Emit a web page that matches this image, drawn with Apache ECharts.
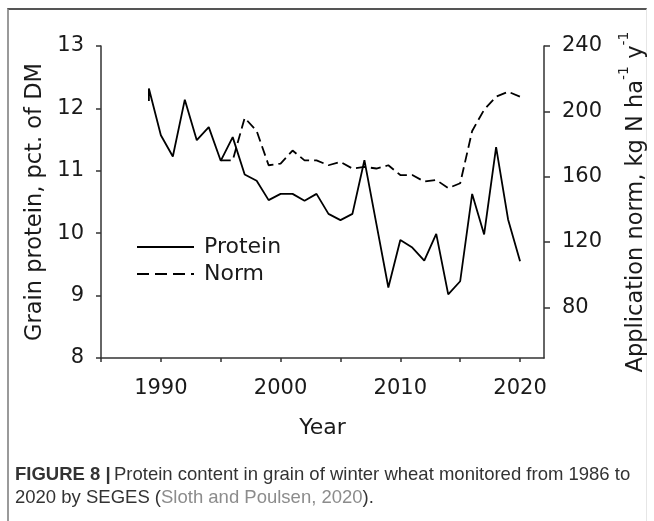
<!DOCTYPE html>
<html>
<head>
<meta charset="utf-8">
<script src="https://cdn.jsdelivr.net/npm/echarts@6/dist/echarts.min.js"></script>
<style>
  * { margin: 0; padding: 0; }
  body { background: #fff; }
  #frame {
    position: absolute; left: 7px; top: 8px; width: 637px; height: 540px;
    border-top: 2px solid #555; border-left: 2px solid #9a9a9a; border-right: 1px solid #e6e6e6;
  }
  #main { position: absolute; left: 0; top: 0; width: 654px; height: 521px; }
</style>
</head>
<body>
<div id="frame"></div>
<div id="main"></div>
<script>
// protein (pct. of DM), first year has two readings
var proteinYears = [1989, 1989, 1990, 1991, 1992, 1993, 1994, 1995, 1996, 1997, 1998, 1999,
  2000, 2001, 2002, 2003, 2004, 2005, 2006, 2007, 2008, 2009, 2010, 2011, 2012, 2013,
  2014, 2015, 2016, 2017, 2018, 2019, 2020];
var proteinValues = [12.12, 12.32, 11.57, 11.23, 12.14, 11.49, 11.70, 11.16, 11.54, 10.94, 10.84, 10.53,
  10.63, 10.63, 10.52, 10.63, 10.31, 10.21, 10.31, 11.17, 10.15, 9.13, 9.89, 9.77, 9.56, 9.99,
  9.02, 9.23, 10.63, 9.98, 11.38, 10.22, 9.55];

// application norm, kg N per ha per year
var normYears = [1995, 1996, 1997, 1998, 1999, 2000, 2001, 2002, 2003, 2004, 2005, 2006, 2007,
  2008, 2009, 2010, 2011, 2012, 2013, 2014, 2015, 2016, 2017, 2018, 2019, 2020];
var normValues = [170, 170, 196, 188, 167, 168, 176, 170, 170, 167, 169, 165, 166,
  165, 167, 161, 161, 157, 158, 153, 156, 188, 201, 209, 212, 209];

var yearTicks = [1985, 1990, 1995, 2000, 2005, 2010, 2015, 2020];
var yearLabels = [1990, 2000, 2010, 2020];
var normTicks = [80, 120, 160, 200, 240];

var font = 'DejaVu Sans';
var ink = '#1a1a1a';
var capFont = 'Liberation Sans';

function pairs(xs, ys) {
  var out = [];
  for (var i = 0; i < xs.length; i++) out.push([xs[i], ys[i]]);
  return out;
}

var chart = echarts.init(document.getElementById('main'));
chart.setOption({
  backgroundColor: 'transparent',
  animation: false,
  textStyle: { fontFamily: font, color: ink },
  grid: { left: 101, right: 110, top: 46, bottom: 163, containLabel: false, outerBoundsMode: 'none' },
  legend: {
    orient: 'vertical',
    left: 131, top: 231,
    itemWidth: 57, itemHeight: 14, itemGap: 5,
    itemStyle: { color: 'transparent', borderWidth: 0 },
    textStyle: { fontFamily: font, fontSize: 22, color: ink, padding: [0, 0, 0, 5] },
    data: [
      { name: 'Protein' },
      { name: 'Norm', lineStyle: { type: [12, 6] } }
    ]
  },
  xAxis: {
    type: 'value', min: 1985, max: 2022,
    name: 'Year', nameLocation: 'middle', nameGap: 59,
    nameTextStyle: { fontSize: 22, color: ink, fontFamily: font },
    axisLine: { lineStyle: { color: '#333', width: 1.5 } },
    axisTick: { show: true, length: 4, customValues: yearTicks, lineStyle: { color: '#333', width: 1.5 } },
    axisLabel: {
      customValues: yearLabels, margin: 20, fontSize: 21, color: ink, fontFamily: font,
      formatter: function (v) { return String(v); }
    },
    splitLine: { show: false }
  },
  yAxis: [{
    type: 'value', min: 8, max: 13, interval: 1,
    name: 'Grain protein, pct. of DM', nameLocation: 'middle', nameGap: 50,
    nameTextStyle: { fontSize: 22.5, color: ink, fontFamily: font },
    axisLine: { show: true, lineStyle: { color: '#333', width: 1.5 } },
    axisTick: { show: true, length: 5, lineStyle: { color: '#333', width: 1.5 } },
    axisLabel: { margin: 17, fontSize: 21, color: ink, fontFamily: font },
    splitLine: { show: false }
  }, {
    type: 'value', min: 49, max: 240, position: 'right',
    name: '{t|Application norm, kg N ha}{s|-1}{t| y}{s|-1}',
    nameLocation: 'middle', nameGap: 73, nameRotate: 90,
    nameTextStyle: {
      fontSize: 22.5, color: ink, fontFamily: font,
      rich: {
        t: { fontSize: 22.5, fontFamily: font, color: ink, lineHeight: 31, verticalAlign: 'bottom' },
        s: { fontSize: 14, fontFamily: font, color: ink, lineHeight: 31, verticalAlign: 'top' }
      }
    },
    axisLine: { show: true, lineStyle: { color: '#333', width: 1.5 } },
    axisTick: { show: true, length: 6, customValues: normTicks, lineStyle: { color: '#333', width: 1.5 } },
    axisLabel: { customValues: normTicks, margin: 18, fontSize: 21, color: ink, fontFamily: font },
    splitLine: { show: false }
  }],
  series: [{
    name: 'Protein', type: 'line', yAxisIndex: 0,
    symbol: 'none',
    lineStyle: { color: '#000', width: 1.8 },
    itemStyle: { color: '#000' },
    data: pairs(proteinYears, proteinValues)
  }, {
    name: 'Norm', type: 'line', yAxisIndex: 1,
    symbol: 'none',
    lineStyle: { color: '#000', width: 1.8, type: [10, 5] },
    itemStyle: { color: '#000' },
    data: pairs(normYears, normValues)
  }],
  graphic: [{
    type: 'text', left: 15, top: 465,
    style: {
      text: '{b|FIGURE 8 |} {n|Protein content in grain of winter wheat monitored from 1986 to}\n{n|2020 by SEGES (}{g|Sloth and Poulsen, 2020}{n|).}',
      rich: {
        b: { fontFamily: capFont, fontWeight: 'bold', fontSize: 18.5, fill: '#333', lineHeight: 23 },
        n: { fontFamily: capFont, fontSize: 18.5, fill: '#333', lineHeight: 23 },
        g: { fontFamily: capFont, fontSize: 18.5, fill: '#8c8c8c', lineHeight: 23 }
      }
    }
  }]
});
</script>
</body>
</html>
